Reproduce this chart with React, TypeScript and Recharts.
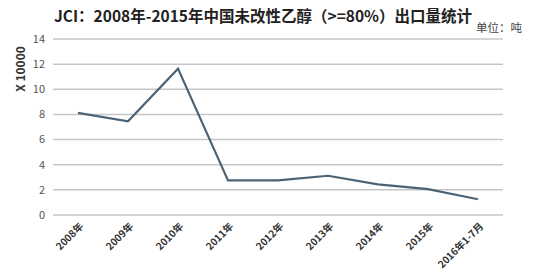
import React from 'react';
import { LineChart, Line, XAxis, YAxis, CartesianGrid } from 'recharts';

const years = ['2008年', '2009年', '2010年', '2011年', '2012年', '2013年', '2014年', '2015年', '2016年1-7月'];
const exports = [8.12, 7.46, 11.64, 2.75, 2.75, 3.12, 2.44, 2.06, 1.25];
const yTicks = [0, 2, 4, 6, 8, 10, 12, 14];

const data = years.map((year, i) => ({ year, value: exports[i] }));

const FONT = '"Noto Sans CJK SC", "Noto Sans", sans-serif';

const YearTick = ({ x, y, payload }: any) => (
  <text
    transform={`translate(${x + 6},${y + 12}) rotate(-45)`}
    textAnchor="end"
    fontSize={10}
    fontWeight="bold"
    fill="#333"
    fontFamily={FONT}
  >
    {payload.value}
  </text>
);

export default function App() {
  return (
    <div style={{ position: 'absolute', left: 0, top: 0, width: 546, height: 272, background: '#fff', fontFamily: FONT }}>
      <div
        style={{
          position: 'absolute',
          left: 54,
          top: 5,
          fontSize: 15.5,
          fontWeight: 'bold',
          color: '#222',
          whiteSpace: 'nowrap',
          lineHeight: '20px',
        }}
      >
        JCI：2008年-2015年中国未改性乙醇（&gt;=80%）出口量统计
      </div>
      <div style={{ position: 'absolute', left: 476, top: 20, fontSize: 11.5, color: '#444', whiteSpace: 'nowrap', lineHeight: '14px' }}>
        单位：吨
      </div>
      <div
        style={{
          position: 'absolute',
          left: 20,
          top: 69,
          transform: 'translate(-50%, -50%) rotate(-90deg)',
          fontSize: 12,
          fontWeight: 'bold',
          color: '#333',
          whiteSpace: 'nowrap',
          lineHeight: '14px',
        }}
      >
        X 10000
      </div>
      <LineChart width={546} height={272} data={data} margin={{ top: 39, right: 43, left: 0, bottom: 27 }}>
        <CartesianGrid vertical={false} stroke="#c6c6c6" strokeWidth={1.5} />
        <XAxis
          dataKey="year"
          padding={{ left: 25, right: 25 }}
          axisLine={false}
          tickLine={false}
          tickSize={0}
          tickMargin={0}
          interval={0}
          tick={<YearTick />}
        />
        <YAxis
          width={53}
          domain={[0, 14]}
          ticks={yTicks}
          axisLine={false}
          tickLine={false}
          tickSize={0}
          tickMargin={8}
          tick={{ fontSize: 11, fill: '#555', fontFamily: FONT }}
        />
        <Line
          type="linear"
          dataKey="value"
          stroke="#4d6373"
          strokeWidth={2.2}
          dot={false}
          isAnimationActive={false}
        />
      </LineChart>
    </div>
  );
}
